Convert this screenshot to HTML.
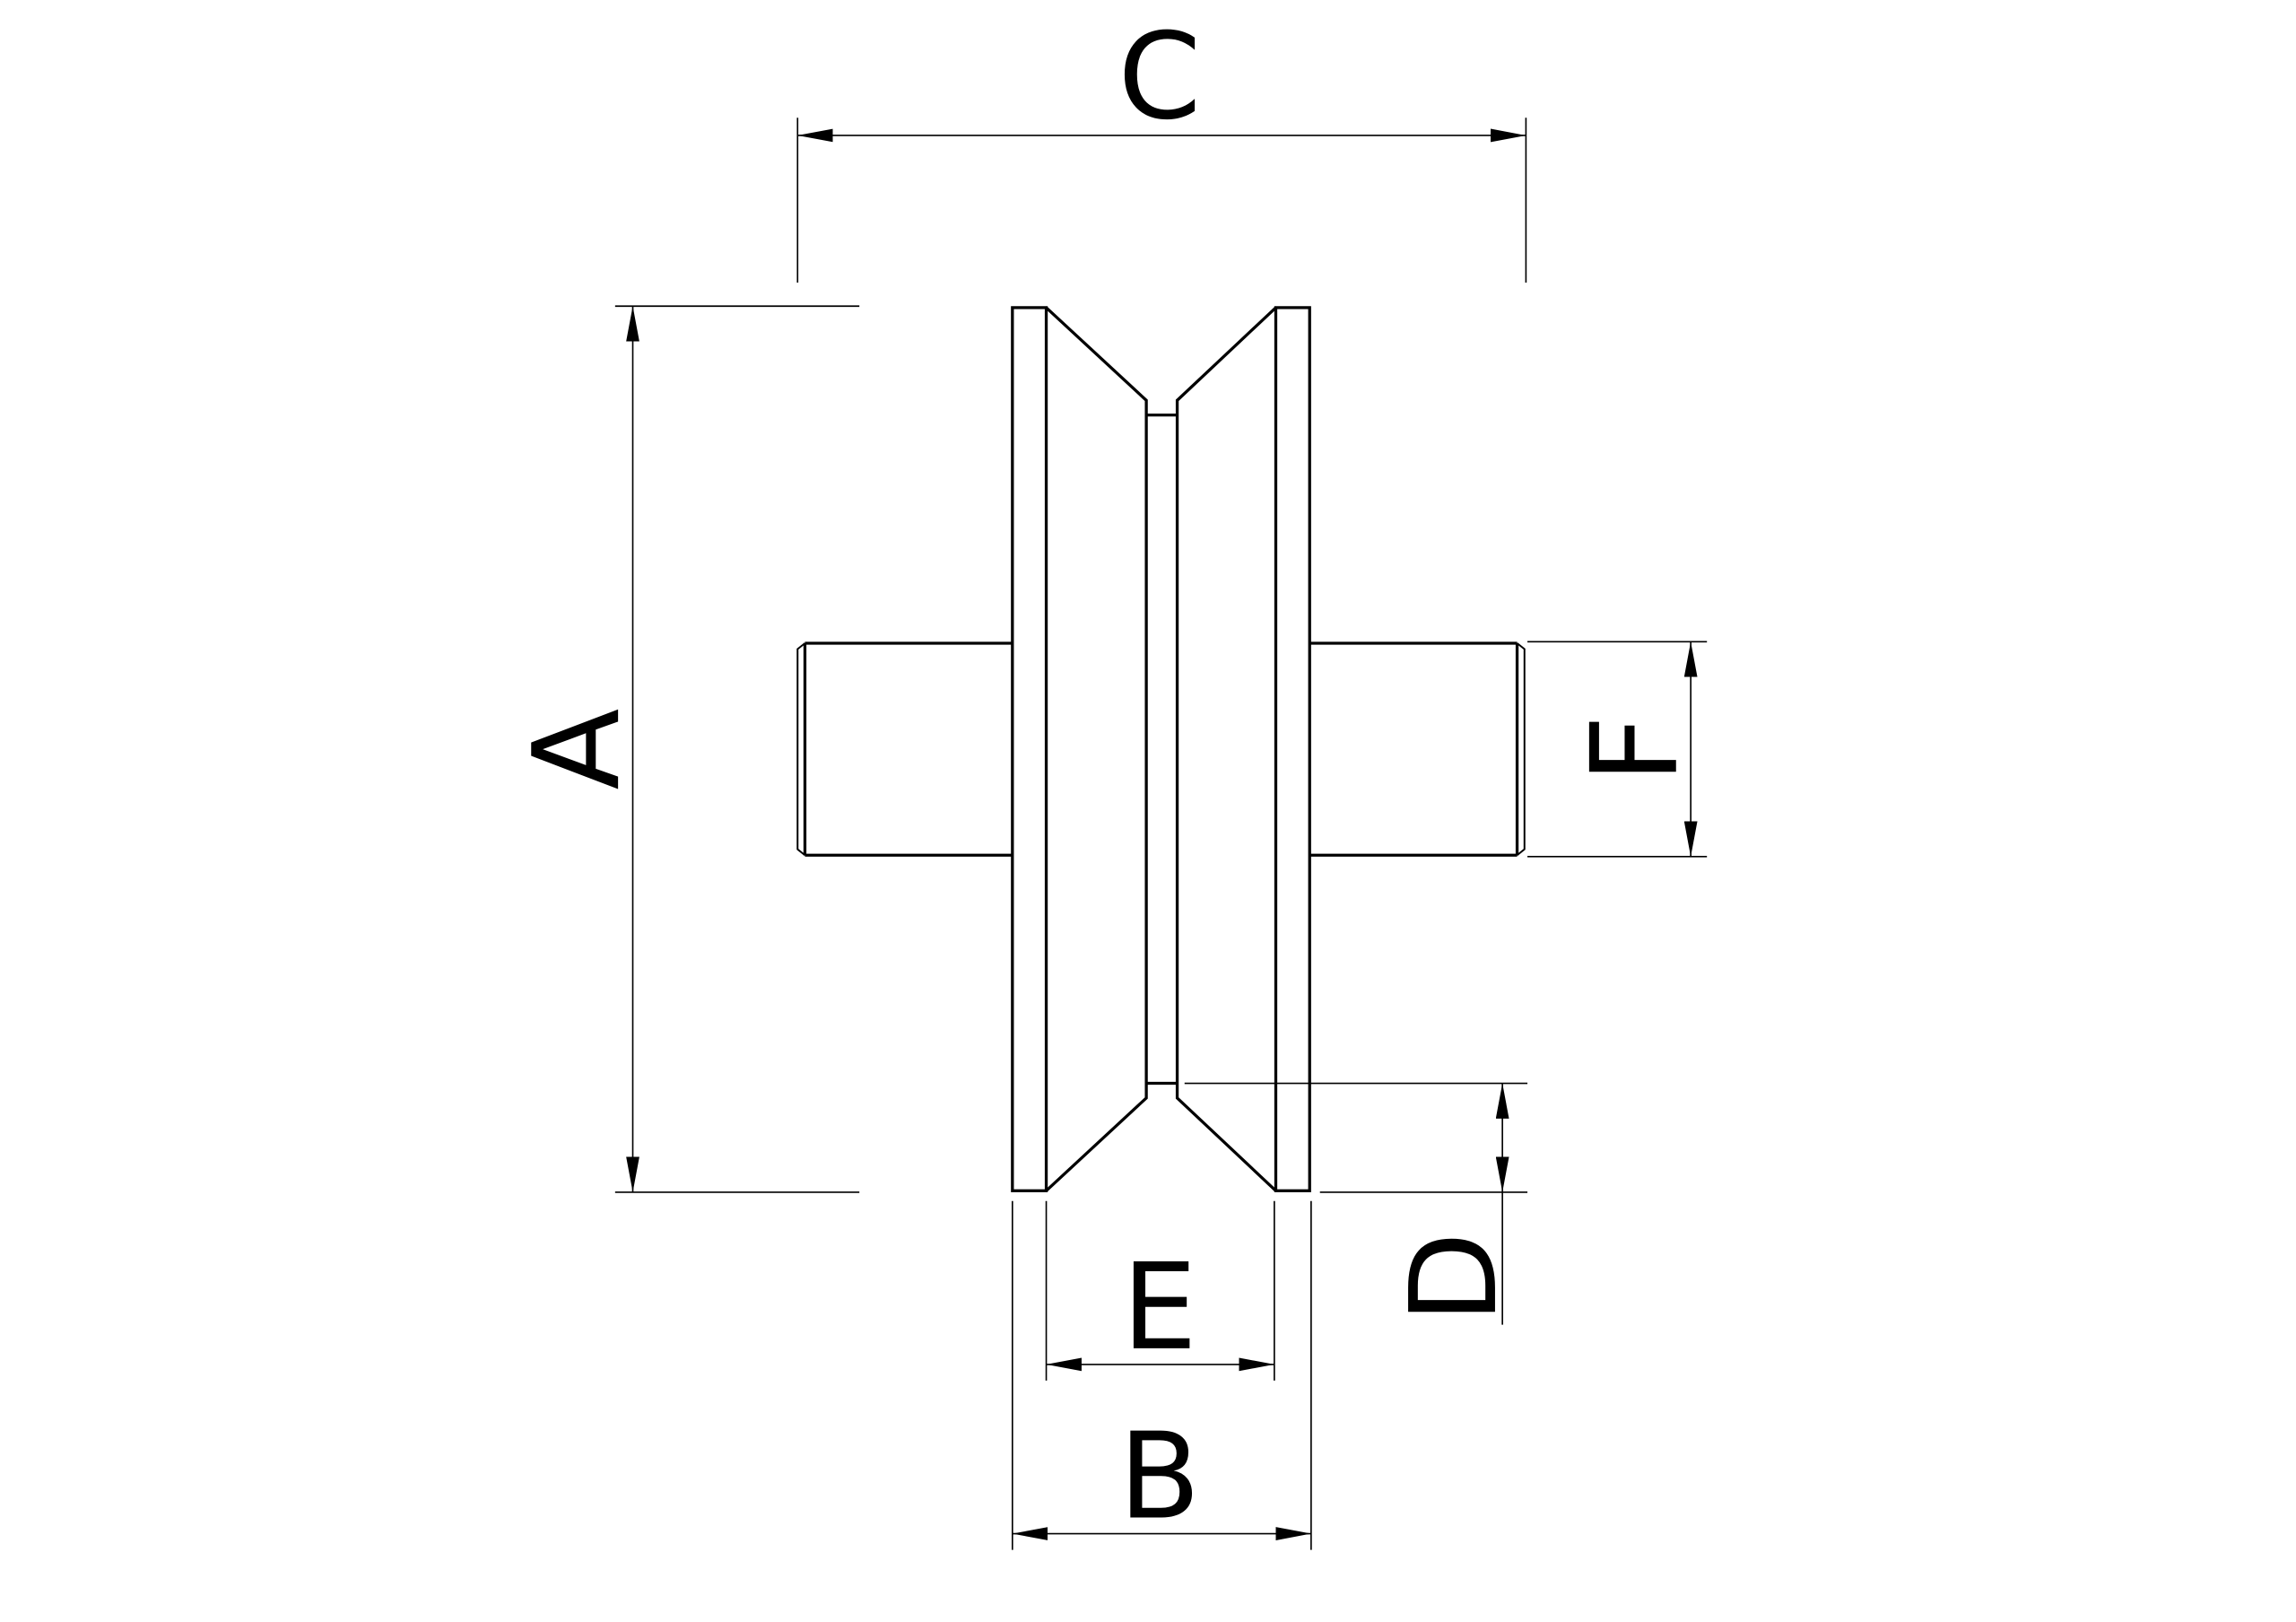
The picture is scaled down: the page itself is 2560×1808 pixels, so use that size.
<!DOCTYPE html>
<html><head><style>html,body{margin:0;padding:0;background:#fff}svg{display:block}</style></head>
<body>
<svg width="2560" height="1808" viewBox="0 0 1560.3 1102" xmlns="http://www.w3.org/2000/svg">
<defs>
<marker id="a" viewBox="-24 0 24 9" refX="0" refY="4.5" markerWidth="24" markerHeight="9" markerUnits="userSpaceOnUse" orient="auto-start-reverse">
<path d="M0,4.5 L-24,0 L-24,9 Z" fill="#000"/></marker>
</defs>
<g stroke="#000" fill="none">
<g stroke-width="1">
<line x1="542" y1="80" x2="542" y2="192"/>
<line x1="1037" y1="80" x2="1037" y2="192"/>
<line x1="542" y1="92" x2="1037" y2="92" marker-start="url(#a)" marker-end="url(#a)"/>
<line x1="418" y1="208" x2="584" y2="208"/>
<line x1="418" y1="810" x2="584" y2="810"/>
<line x1="430" y1="208" x2="430" y2="810" marker-start="url(#a)" marker-end="url(#a)"/>
<line x1="1038" y1="436" x2="1160" y2="436"/>
<line x1="1038" y1="582" x2="1160" y2="582"/>
<line x1="1149" y1="436" x2="1149" y2="582" marker-start="url(#a)" marker-end="url(#a)"/>
<line x1="805" y1="736" x2="1038" y2="736"/>
<line x1="897" y1="810" x2="1038" y2="810"/>
<line x1="1021" y1="736" x2="1021" y2="810" marker-start="url(#a)" marker-end="url(#a)"/>
<line x1="1021" y1="810" x2="1021" y2="900"/>
<line x1="711" y1="816" x2="711" y2="938"/>
<line x1="866" y1="816" x2="866" y2="938"/>
<line x1="711" y1="927" x2="866" y2="927" marker-start="url(#a)" marker-end="url(#a)"/>
<line x1="688" y1="816" x2="688" y2="1053"/>
<line x1="891" y1="816" x2="891" y2="1053"/>
<line x1="688" y1="1042" x2="891" y2="1042" marker-start="url(#a)" marker-end="url(#a)"/>
</g>
<g stroke-width="2">
<rect x="688" y="209" width="23" height="600"/>
<rect x="867" y="209" width="23" height="600"/>
<polyline points="711,209 779,272 779,746 711,809"/>
<polyline points="867,209 800,272 800,746 867,809"/>
<line x1="779" y1="282" x2="800" y2="282"/>
<line x1="779" y1="736" x2="800" y2="736"/>
<line x1="547" y1="437" x2="688" y2="437"/>
<line x1="547" y1="581" x2="688" y2="581"/>
<line x1="547" y1="437" x2="547" y2="581"/>
<line x1="890" y1="437" x2="1031" y2="437"/>
<line x1="890" y1="581" x2="1031" y2="581"/>
<line x1="1031" y1="437" x2="1031" y2="581"/>
</g>
<g stroke-width="1.2">
<polyline points="547,437 542,441 542,577 547,581"/>
<polyline points="1031,437 1036,441 1036,577 1031,581"/>
</g>
</g>
<g font-family="DejaVu Sans, sans-serif" font-size="81" fill="#000" text-anchor="middle">
<text x="788" y="80">C</text>
<text x="788" y="916">E</text>
<text x="788" y="1031">B</text>
<text transform="translate(420,509) rotate(-90)">A</text>
<text transform="translate(1139,509) rotate(-90)">F</text>
<text transform="translate(1016,868) rotate(-90)">D</text>
</g>
</svg>
</body></html>
